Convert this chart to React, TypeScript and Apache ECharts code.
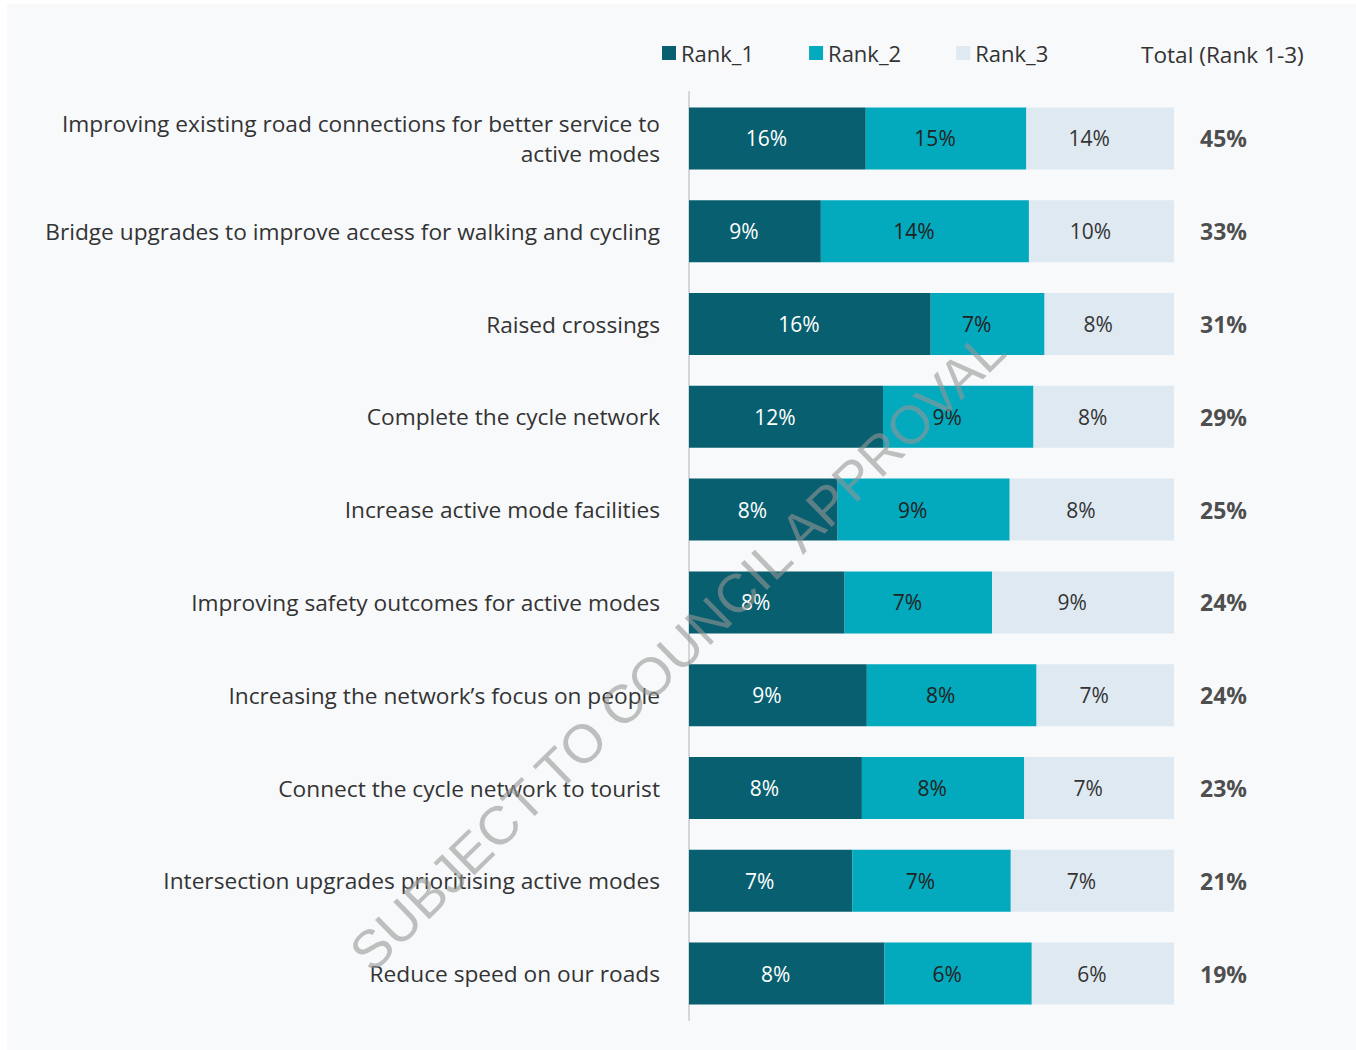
import React, { useEffect, useRef } from "react";
import * as echarts from "echarts";

const categories = [
  "Improving existing road connections for better service to\nactive modes",
  "Bridge upgrades to improve access for walking and cycling",
  "Raised crossings",
  "Complete the cycle network",
  "Increase active mode facilities",
  "Improving safety outcomes for active modes",
  "Increasing the network\u2019s focus on people",
  "Connect the cycle network to tourist",
  "Intersection upgrades prioritising active modes",
  "Reduce speed on our roads",
];

const seriesNames = ["Rank_1", "Rank_2", "Rank_3"];
const rank1 = [16.4, 9.0, 15.5, 11.6, 7.6, 7.7, 8.8, 8.2, 7.1, 7.7];
const rank2 = [14.9, 14.2, 7.3, 9.0, 8.8, 7.3, 8.4, 7.7, 6.9, 5.8];
const rank3 = [13.7, 9.9, 8.3, 8.4, 8.4, 9.0, 6.8, 7.1, 7.1, 5.6];
const totalLabel = "Total (Rank 1-3)";
const watermark = "SUBJECT TO COUNCIL APPROVAL";

const colors = ["#085f70", "#03a9bd", "#dfe9f2"];
const labelColors = ["#ffffff", "#222222", "#333333"];
const FONT = "'Open Sans', 'Liberation Sans', Arial, sans-serif";

export default function App() {
  const ref = useRef<HTMLDivElement>(null);

  useEffect(() => {
    document.body.style.margin = "0";
    if (!ref.current) return;
    const chart = echarts.init(ref.current, null, { renderer: "svg" });
    const ranks = [rank1, rank2, rank3];
    const totals = categories.map((_, i) => rank1[i] + rank2[i] + rank3[i]);

    const barSeries = ranks.map((arr, k) => ({
      name: seriesNames[k],
      type: "bar",
      stack: "total",
      barWidth: 62,
      itemStyle: { color: colors[k] },
      label: {
        show: true,
        position: "inside",
        offset: [-11, 0],
        color: labelColors[k],
        fontSize: 21,
        fontFamily: FONT,
        formatter: (p: any) => Math.round(arr[p.dataIndex]) + "%",
      },
      emphasis: { disabled: true },
      data: arr.map((v, i) => (v / totals[i]) * 100),
    }));

    const totalSeries = {
      name: totalLabel,
      type: "scatter",
      symbolSize: 0,
      silent: true,
      label: {
        show: true,
        position: "right",
        distance: 26,
        color: "#1f1f1f",
        fontSize: 23,
        fontWeight: "bold",
        fontFamily: FONT,
        formatter: (p: any) => Math.round(totals[p.dataIndex]) + "%",
      },
      data: categories.map((_, i) => [100, i]),
    };

    chart.setOption({
      animation: false,
      backgroundColor: "#ffffff",
      textStyle: { fontFamily: FONT },
      graphic: [
        {
          type: "rect",
          z: -10,
          shape: { x: 7, y: 4, width: 1349, height: 1046 },
          style: { fill: "#f8f9fb" },
        },
        {
          type: "text",
          x: 1141,
          y: 54,
          style: {
            text: totalLabel,
            fontSize: 22.6,
            fontFamily: FONT,
            fill: "#333333",
            verticalAlign: "middle",
            align: "left",
          },
        },
        {
          type: "text",
          x: 677,
          y: 651,
          z: 100,
          rotation: (44.3 * Math.PI) / 180,
          style: {
            text: watermark,
            fontSize: 54,
            fontWeight: "normal",
            fontFamily: "'Liberation Sans', Arial, sans-serif",
            fill: "rgba(150,150,150,0.6)",
            align: "center",
            verticalAlign: "middle",
          },
        },
      ],
      legend: {
        data: seriesNames,
        left: 657,
        top: 37,
        itemWidth: 14,
        itemHeight: 14,
        itemGap: 55,
        icon: "rect",
        textStyle: { fontSize: 22, color: "#333333", fontFamily: FONT },
        selectedMode: false,
      },
      grid: { left: 689, top: 92, width: 485, height: 928, containLabel: false },
      xAxis: { type: "value", min: 0, max: 100, show: false },
      yAxis: {
        type: "category",
        inverse: true,
        data: categories,
        axisLine: { show: true, lineStyle: { color: "#d4d6d9", width: 2 } },
        axisTick: { show: false },
        axisLabel: {
          margin: 29,
          fontSize: 22.7,
          color: "#333333",
          lineHeight: 30,
          align: "right",
          fontFamily: FONT,
        },
      },
      series: [...barSeries, totalSeries],
    });

    return () => chart.dispose();
  }, []);

  return <div ref={ref} style={{ width: 1356, height: 1050 }} />;
}
